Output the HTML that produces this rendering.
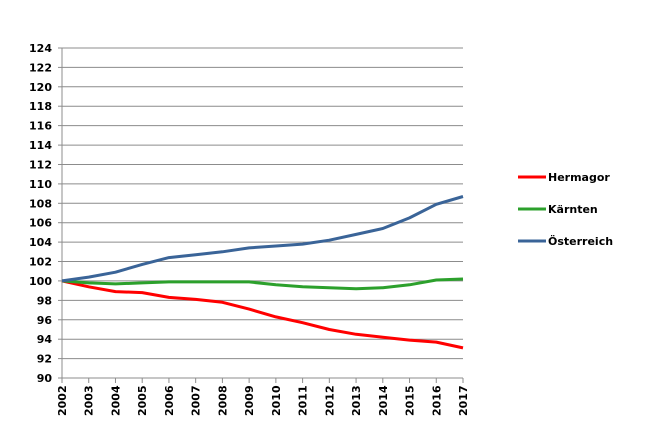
<!DOCTYPE html>
<html><head><meta charset="utf-8"><style>
body{margin:0;background:#fff;width:669px;height:432px;overflow:hidden}
svg text{font-family:"DejaVu Sans","Liberation Sans",sans-serif;font-weight:bold;font-size:11px;fill:#000}
</style></head><body>
<svg id="s" width="669" height="432" xmlns="http://www.w3.org/2000/svg"></svg>
<script>
var s=document.getElementById('s'),h='';
function Y(v){return 378-(v-90)*330/34;}
function X(i){return 62+i*401/15;}
for(var v=90;v<=124;v+=2){var y=Y(v).toFixed(1);
 h+='<line x1="62" y1="'+y+'" x2="463" y2="'+y+'" stroke="#8c8c8c" stroke-width="1"/>';
 h+='<line x1="58" y1="'+y+'" x2="62" y2="'+y+'" stroke="#8c8c8c"/>';
 h+='<text x="52" y="'+(Y(v)+4)+'" text-anchor="end">'+v+'</text>';}
h+='<line x1="62" y1="48" x2="62" y2="378" stroke="#8c8c8c"/>';
for(var i=0;i<16;i++){var x=X(i);
 h+='<line x1="'+x+'" y1="378" x2="'+x+'" y2="383" stroke="#8c8c8c"/>';
 h+='<text transform="translate('+(x+4)+',416) rotate(-90)">'+(2002+i)+'</text>';}
var d={'#ff0000':[100,99.4,98.9,98.8,98.3,98.1,97.8,97.1,96.3,95.7,95.0,94.5,94.2,93.9,93.7,93.1],
'#2ca02c':[100,99.8,99.7,99.8,99.9,99.9,99.9,99.9,99.6,99.4,99.3,99.2,99.3,99.6,100.1,100.2],
'#3a6498':[100,100.4,100.9,101.7,102.4,102.7,103.0,103.4,103.6,103.8,104.2,104.8,105.4,106.5,107.9,108.7]};
for(var c in d){var p=d[c].map(function(v,i){return X(i).toFixed(1)+','+Y(v).toFixed(1)}).join(' ');
 h+='<polyline points="'+p+'" fill="none" stroke="'+c+'" stroke-width="3" stroke-linejoin="round"/>';}
var L=[['#ff0000','Hermagor',177],['#2ca02c','Kärnten',209],['#3a6498','Österreich',241]];
L.forEach(function(l){h+='<line x1="518" y1="'+l[2]+'" x2="546" y2="'+l[2]+'" stroke="'+l[0]+'" stroke-width="3"/>';
 h+='<text x="548" y="'+(l[2]+4)+'">'+l[1]+'</text>';});
s.innerHTML=h;
</script>
</body></html>
